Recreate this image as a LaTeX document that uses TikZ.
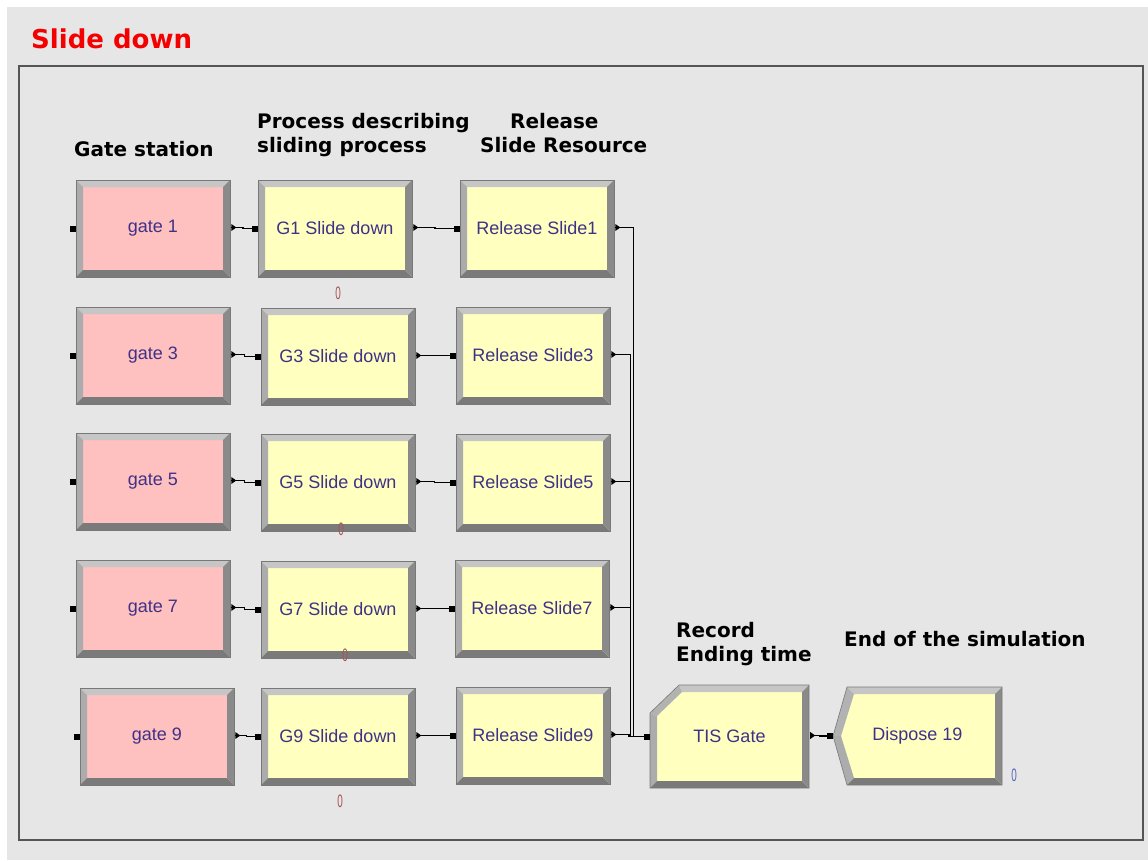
\documentclass[tikz,border=0pt]{standalone}
\usepackage{fontspec}
\setmainfont{Liberation Sans}
\newfontfamily\headfont{DejaVu Sans}
\usetikzlibrary{calc}

\definecolor{bgray}{RGB}{230,230,230}
\definecolor{framegray}{RGB}{85,85,85}
\definecolor{bordergray}{RGB}{120,120,120}
\definecolor{gatepink}{RGB}{255,192,192}
\definecolor{procyellow}{RGB}{255,255,192}
\definecolor{labelblue}{RGB}{62,50,135}
\definecolor{bevtop}{RGB}{198,198,198}
\definecolor{bevleft}{RGB}{172,172,172}
\definecolor{bevbot}{RGB}{122,122,122}
\definecolor{bevright}{RGB}{138,138,138}
\definecolor{cntred}{RGB}{165,85,80}
\definecolor{cntblue}{RGB}{90,100,190}
\definecolor{titlered}{RGB}{245,0,0}

\newcommand\bw{7pt}
% bevelled frame of an Arena-style module, drawn inside the node
\newcommand\bevelframe{%
  \fill[bevtop] let \p1=(path picture bounding box.north west),\p2=(path picture bounding box.south east) in
    (\x1,\y1)--(\x2,\y1)--(\x2-\bw,\y1-\bw)--(\x1+\bw,\y1-\bw)--cycle;
  \fill[bevleft] let \p1=(path picture bounding box.north west),\p2=(path picture bounding box.south east) in
    (\x1,\y1)--(\x1+\bw,\y1-\bw)--(\x1+\bw,\y2+\bw)--(\x1,\y2)--cycle;
  \fill[bevbot] let \p1=(path picture bounding box.north west),\p2=(path picture bounding box.south east) in
    (\x1,\y2)--(\x1+\bw,\y2+\bw)--(\x2-\bw,\y2+\bw)--(\x2,\y2)--cycle;
  \fill[bevright] let \p1=(path picture bounding box.north west),\p2=(path picture bounding box.south east) in
    (\x2,\y1)--(\x2,\y2)--(\x2-\bw,\y2+\bw)--(\x2-\bw,\y1-\bw)--cycle;
}
\newcommand\link[2]{\draw[conn] (#1-out) -| ($(#1-out)!.5!(#2-in)$) |- (#2-in);}

\tikzset{
  module/.style={rectangle, inner sep=0pt, minimum width=154pt, minimum height=97pt,
    draw=bordergray, line width=0.6pt, text=labelblue,
    font=\fontsize{18pt}{20pt}\selectfont, path picture={\bevelframe}},
  gatebox/.style={module, fill=gatepink},
  procbox/.style={module, fill=procyellow},
  insq/.style={rectangle, fill=black, inner sep=0pt, minimum size=6pt},
  conn/.style={draw=black, line width=1.4pt},
  hdr/.style={inner sep=0pt, anchor=base west, font=\headfont\bfseries\fontsize{20pt}{24pt}\selectfont},
  cnt/.style={inner sep=0pt, font=\fontsize{18pt}{18pt}\selectfont},
  shell/.style={rectangle, inner sep=0pt, text=labelblue, font=\fontsize{18pt}{20pt}\selectfont}
}

\begin{document}
\begin{tikzpicture}[x=1pt,y=-1pt]
\useasboundingbox (0,0) rectangle (1148,860);
\fill[white] (0,0) rectangle (1148,860);
\fill[bgray] (7,7) rectangle (1148,860);
\draw[framegray, line width=2pt] (19,66) rectangle (1143,840);

% title
\node[inner sep=0pt, anchor=base west, text=titlered,
  font=\headfont\bfseries\fontsize{26pt}{30pt}\selectfont] (title) at (31,48) {Slide down};

% column headers
\node[hdr] (hgate) at (74,156) {Gate station};
\node[hdr] (hproc1) at (257,128) {Process describing};
\node[hdr] (hproc2) at (257,152) {sliding process};
\node[hdr] (hrel1) at (510,128) {Release};
\node[hdr] (hrel2) at (480,152) {Slide Resource};
\node[hdr] (hrec1) at (676,637) {Record};
\node[hdr] (hrec2) at (676,661) {Ending time};
\node[hdr] (hend) at (844,646) {End of the simulation};

% stations
\node[gatebox] (g1) at (153,228.5) {gate 1};
\node[gatebox] (g3) at (153,355.5) {gate 3};
\node[gatebox] (g5) at (153,481.5) {gate 5};
\node[gatebox] (g7) at (153,608.5) {gate 7};
\node[gatebox] (g9) at (157,736.5) {gate 9};

% sliding processes
\node[procbox] (p1) at (335,228.5) {G1 Slide down};
\node[procbox] (p3) at (338,356.5) {G3 Slide down};
\node[procbox] (p5) at (338,482.5) {G5 Slide down};
\node[procbox] (p7) at (338,609.5) {G7 Slide down};
\node[procbox] (p9) at (338,736.5) {G9 Slide down};

% releases
\node[procbox] (r1) at (537,228.5) {Release Slide1};
\node[procbox] (r3) at (533,355.5) {Release Slide3};
\node[procbox] (r5) at (533,482.5) {Release Slide5};
\node[procbox] (r7) at (532,608.5) {Release Slide7};
\node[procbox] (r9) at (533,735.5) {Release Slide9};

% record module (chamfered corner)
\fill[procyellow] (650,713)--(679,685)--(809,685)--(809,788)--(650,788)--cycle;
\fill[bevtop] (679,685)--(809,685)--(802,692)--(682,692)--cycle;
\fill[bevtop!90!black] (650,713)--(679,685)--(682,692)--(657,716)--cycle;
\fill[bevleft] (650,713)--(657,716)--(657,781)--(650,788)--cycle;
\fill[bevbot] (650,788)--(657,781)--(802,781)--(809,788)--cycle;
\fill[bevright] (809,685)--(809,788)--(802,781)--(802,692)--cycle;
\draw[bordergray, line width=0.6pt] (650,713)--(679,685)--(809,685)--(809,788)--(650,788)--cycle;
\node[shell, minimum width=159pt, minimum height=103pt] (tis) at (729.5,736.5) {TIS Gate};

% dispose module (pointed left side)
\fill[procyellow] (833,736)--(847,687)--(1002,687)--(1002,785)--(847,785)--cycle;
\fill[bevtop] (847,687)--(1002,687)--(995,694)--(854,694)--cycle;
\fill[bevtop!90!black] (833,736)--(847,687)--(854,694)--(841,736)--cycle;
\fill[bevleft] (833,736)--(841,736)--(854,778)--(847,785)--cycle;
\fill[bevbot] (847,785)--(854,778)--(995,778)--(1002,785)--cycle;
\fill[bevright] (1002,687)--(1002,785)--(995,778)--(995,694)--cycle;
\draw[bordergray, line width=0.6pt] (833,736)--(847,687)--(1002,687)--(1002,785)--(847,785)--cycle;
\node[shell, minimum width=169pt, minimum height=98pt] (disp) at (917.5,736) {Dispose 19};

% entry ports
\foreach \m in {g1,g3,g5,g7,g9,p1,p3,p5,p7,p9,r1,r3,r5,r7,r9,tis,disp}
  \node[insq] (\m-in) at ([xshift=-3pt]\m.west) {};
% exit ports
\foreach \m in {g1,g3,g5,g7,g9,p1,p3,p5,p7,p9,r1,r3,r5,r7,r9,tis}{
  \coordinate (\m-out) at ([xshift=1pt,yshift=1pt]\m.east);
  \fill[black] ([yshift=3.5pt]\m-out) -- ([xshift=5pt]\m-out) -- ([yshift=-3.5pt]\m-out) -- cycle;
}

% flow connections
\link{g1}{p1} \link{g3}{p3} \link{g5}{p5} \link{g7}{p7} \link{g9}{p9}
\link{p1}{r1} \link{p3}{r3} \link{p5}{r5} \link{p7}{r7} \link{p9}{r9}
\coordinate (busA) at (633.5,0);
\coordinate (busB) at (630.5,0);
\draw[conn] (r1-out) -| (busA |- tis-in) -- (tis-in);
\draw[conn] (r3-out) -| (busB |- tis-in) -- (tis-in);
\draw[conn] (r5-out) -| (busB |- tis-in) -- (tis-in);
\draw[conn] (r7-out) -| (busB |- tis-in) -- (tis-in);
\link{r9}{tis}
\link{tis}{disp}

% entity counters
\node[cnt, text=cntred] (c1) at (338,293) {\scalebox{0.55}[1]{0}};
\node[cnt, text=cntred] (c5) at (341,529) {\scalebox{0.55}[1]{0}};
\node[cnt, text=cntred] (c7) at (345,655) {\scalebox{0.55}[1]{0}};
\node[cnt, text=cntred] (c9) at (340,801) {\scalebox{0.55}[1]{0}};
\node[cnt, text=cntblue] (cd) at (1014,775) {\scalebox{0.55}[1]{0}};
\end{tikzpicture}
\end{document}
